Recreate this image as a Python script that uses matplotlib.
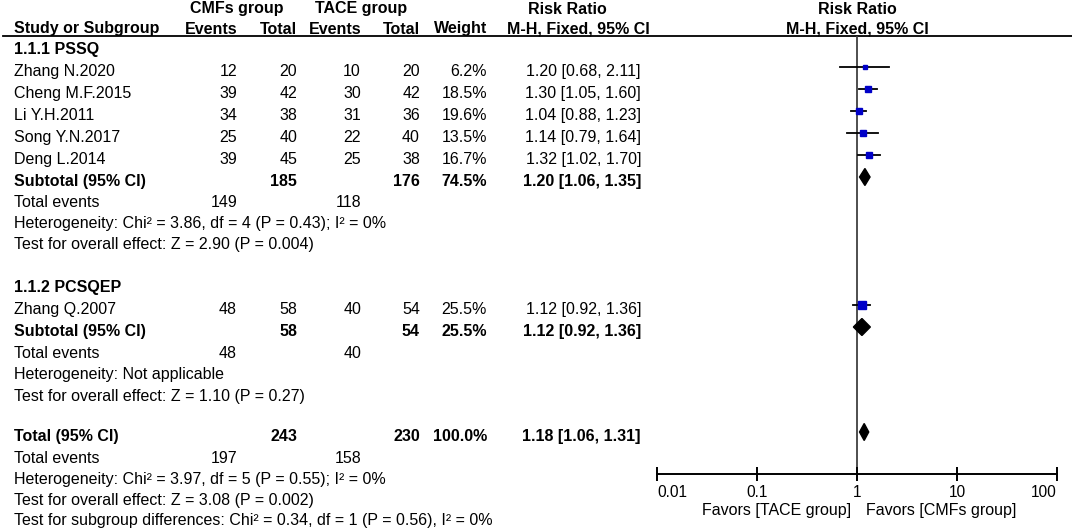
import numpy as np
import matplotlib.pyplot as plt
from matplotlib.patches import Polygon
from matplotlib.ticker import NullLocator

plt.rcParams['font.family'] = ['Liberation Sans', 'DejaVu Sans']

# per-study data
studies = ["Zhang N.2020", "Cheng M.F.2015", "Li Y.H.2011", "Song Y.N.2017",
           "Deng L.2014", "Zhang Q.2007"]
study_group = [0, 0, 0, 0, 0, 1]
ev_cmf = [12, 39, 34, 25, 39, 48]
n_cmf = [20, 42, 38, 40, 45, 58]
ev_tace = [10, 30, 31, 22, 25, 40]
n_tace = [20, 42, 36, 40, 38, 54]
weight = [6.2, 18.5, 19.6, 13.5, 16.7, 25.5]
rr = [1.20, 1.30, 1.04, 1.14, 1.32, 1.12]
rr_lo = [0.68, 1.05, 0.88, 0.79, 1.02, 0.92]
rr_hi = [2.11, 1.60, 1.23, 1.64, 1.70, 1.36]

# subgroup data
groups = ["1.1.1 PSSQ", "1.1.2 PCSQEP"]
sub_n_cmf = [185, 58]
sub_n_tace = [176, 54]
sub_weight = [74.5, 25.5]
sub_rr = [1.20, 1.12]
sub_lo = [1.06, 0.92]
sub_hi = [1.35, 1.36]
sub_ev_cmf = [149, 48]
sub_ev_tace = [118, 40]
sub_het = ["Heterogeneity: Chi² = 3.86, df = 4 (P = 0.43); I² = 0%",
           "Heterogeneity: Not applicable"]
sub_z = ["Test for overall effect: Z = 2.90 (P = 0.004)",
         "Test for overall effect: Z = 1.10 (P = 0.27)"]

# overall
tot_n_cmf, tot_n_tace = 243, 230
tot_weight = 100.0
tot_rr, tot_lo, tot_hi = 1.18, 1.06, 1.31
tot_ev_cmf, tot_ev_tace = 197, 158
tot_het = "Heterogeneity: Chi² = 3.97, df = 5 (P = 0.55); I² = 0%"
tot_z = "Test for overall effect: Z = 3.08 (P = 0.002)"
sub_diff = "Test for subgroup differences: Chi² = 0.34, df = 1 (P = 0.56), I² = 0%"

xticks = [0.01, 0.1, 1, 10, 100]
xtick_labels = ["0.01", "0.1", "1", "10", "100"]

# layout (pixels): vertical centre of each table row
W, H = 1072, 529
row_ys = [48, 70, 92, 114, 136, 158, 180, 201, 222, 243, 265,
          286, 308, 330, 352, 373, 395, 415,
          435, 457, 478, 499, 519]
x_name, x_ev1, x_n1, x_ev2, x_n2, x_w, x_rr = 14, 237, 297, 361, 420, 487, 641
fs = 11.5
blue = '#0000c8'

fig = plt.figure(figsize=(W / 100, H / 100), dpi=100)
ax = fig.add_axes([0, 0, 1, 1])
ax.set_xlim(0, W)
ax.set_ylim(H, 0)
ax.axis('off')

# forest panel, shares the pixel y coords
axf = fig.add_axes([657 / W, 1 - 474 / H, 400 / W, (474 - 36) / H])
axf.set_xscale('log')
axf.set_xlim(0.01, 100)
axf.set_ylim(474, 36)
axf.patch.set_alpha(0)
for s in ['top', 'left', 'right']:
    axf.spines[s].set_visible(False)
axf.spines['bottom'].set_linewidth(1.4)
axf.set_yticks([])
axf.set_xticks(xticks)
axf.set_xticklabels(xtick_labels, fontsize=11.2)
axf.xaxis.set_minor_locator(NullLocator())
axf.tick_params(axis='x', direction='inout', length=10, width=1.4, pad=3)
lbls = axf.get_xticklabels()
lbls[0].set_ha('left')
lbls[-1].set_ha('right')
axf.axvline(1, color='#404040', lw=1.3, zorder=1)


def text_y(i):
    return row_ys[i] + 1.5


def mark_y(i):
    return row_ys[i] - 3


def put(x, i, s, ha='right', bold=False):
    ax.text(x, text_y(i), s, ha=ha, va='center', fontsize=fs,
            fontweight='bold' if bold else 'normal')


def diamond(i, est, lo, hi, h=17):
    y = mark_y(i)
    axf.add_patch(Polygon([(lo, y), (est, y - h / 2), (hi, y), (est, y + h / 2)],
                          closed=True, facecolor='black', edgecolor='black', zorder=3))


# headers
hb = dict(fontsize=fs, fontweight='bold', va='center')
ax.text(237, 9, "CMFs group", ha='center', **hb)
ax.text(361, 9, "TACE group", ha='center', **hb)
ax.text(567, 9, "Risk Ratio", ha='center', **hb)
ax.text(857, 9, "Risk Ratio", ha='center', **hb)
ax.text(x_name, 29, "Study or Subgroup", ha='left', **hb)
ax.text(x_ev1, 29, "Events", ha='right', **hb)
ax.text(x_n1, 29, "Total", ha='right', **hb)
ax.text(x_ev2, 29, "Events", ha='right', **hb)
ax.text(x_n2, 29, "Total", ha='right', **hb)
ax.text(x_w, 29, "Weight", ha='right', **hb)
ax.text(578, 29, "M-H, Fixed, 95% CI", ha='center', **hb)
ax.text(857, 29, "M-H, Fixed, 95% CI", ha='center', **hb)
ax.plot([3, W], [35.5, 35.5], color='black', lw=1.3)

# body
row = 0
for g, name in enumerate(groups):
    put(x_name, row, name, ha='left', bold=True)
    row += 1
    for k in range(len(studies)):
        if study_group[k] != g:
            continue
        put(x_name, row, studies[k], ha='left')
        put(x_ev1, row, str(ev_cmf[k]))
        put(x_n1, row, str(n_cmf[k]))
        put(x_ev2, row, str(ev_tace[k]))
        put(x_n2, row, str(n_tace[k]))
        put(x_w, row, f"{weight[k]:.1f}%")
        put(x_rr, row, f"{rr[k]:.2f} [{rr_lo[k]:.2f}, {rr_hi[k]:.2f}]")
        axf.plot([rr_lo[k], rr_hi[k]], [mark_y(row)] * 2, color='black', lw=1.3, zorder=2)
        axf.plot(rr[k], mark_y(row), marker='s', color=blue, lw=0,
                 markersize=1.45 * np.sqrt(weight[k]) * 0.72, zorder=3)
        row += 1
    put(x_name, row, "Subtotal (95% CI)", ha='left', bold=True)
    put(x_n1, row, str(sub_n_cmf[g]), bold=True)
    put(x_n2, row, str(sub_n_tace[g]), bold=True)
    put(x_w, row, f"{sub_weight[g]:.1f}%", bold=True)
    put(x_rr, row, f"{sub_rr[g]:.2f} [{sub_lo[g]:.2f}, {sub_hi[g]:.2f}]", bold=True)
    diamond(row, sub_rr[g], sub_lo[g], sub_hi[g])
    row += 1
    put(x_name, row, "Total events", ha='left')
    put(x_ev1, row, str(sub_ev_cmf[g]))
    put(x_ev2, row, str(sub_ev_tace[g]))
    row += 1
    put(x_name, row, sub_het[g], ha='left')
    row += 1
    put(x_name, row, sub_z[g], ha='left')
    row += 2

put(x_name, row, "Total (95% CI)", ha='left', bold=True)
put(x_n1, row, str(tot_n_cmf), bold=True)
put(x_n2, row, str(tot_n_tace), bold=True)
put(x_w, row, f"{tot_weight:.1f}%", bold=True)
put(x_rr, row, f"{tot_rr:.2f} [{tot_lo:.2f}, {tot_hi:.2f}]", bold=True)
diamond(row, tot_rr, tot_lo, tot_hi)
row += 1
put(x_name, row, "Total events", ha='left')
put(x_ev1, row, str(tot_ev_cmf))
put(x_ev2, row, str(tot_ev_tace))
row += 1
put(x_name, row, tot_het, ha='left')
row += 1
put(x_name, row, tot_z, ha='left')
row += 1
put(x_name, row, sub_diff, ha='left')

ax.text(851, 511, "Favors [TACE group]", ha='right', va='center', fontsize=fs)
ax.text(866, 511, "Favors [CMFs group]", ha='left', va='center', fontsize=fs)

fig.savefig('out.png', dpi=100)
